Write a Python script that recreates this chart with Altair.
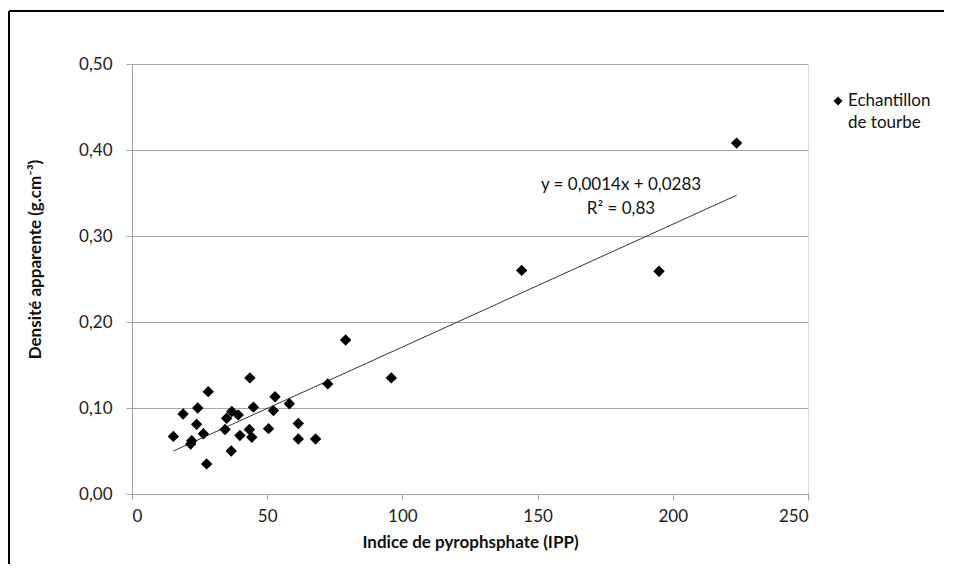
import altair as alt
import pandas as pd

# Data
ipp = [79.0, 95.9, 72.4, 43.6, 28.2, 52.9, 58.2, 24.3, 18.9, 36.9, 35.0, 39.3,
       44.9, 52.3, 23.9, 61.5, 34.4, 43.4, 50.5, 26.4, 15.3, 39.9, 44.3, 22.1,
       21.7, 61.5, 67.9, 36.7, 27.6, 144.1, 194.9, 223.6]
densite = [0.179, 0.135, 0.128, 0.135, 0.119, 0.113, 0.105, 0.100, 0.093, 0.096,
           0.088, 0.092, 0.101, 0.097, 0.081, 0.082, 0.075, 0.075, 0.076, 0.070,
           0.067, 0.068, 0.066, 0.062, 0.058, 0.064, 0.064, 0.050, 0.035, 0.260,
           0.259, 0.408]
x_ticks = [0, 50, 100, 150, 200, 250]
y_ticks = [0.0, 0.1, 0.2, 0.3, 0.4, 0.5]
equation_lines = ["y = 0,0014x + 0,0283", "R² = 0,83"]
legend_lines = ["Echantillon", "de tourbe"]

df = pd.DataFrame({"ipp": ipp, "densite": densite})

FONT = "Lato"
GRID = "#a6a6a6"

x_enc = alt.X("ipp:Q", scale=alt.Scale(domain=[0, 250], nice=False),
              axis=alt.Axis(values=x_ticks, title="Indice de pyrophsphate  (IPP)",
                            grid=False, domainColor=GRID, tickColor=GRID, tickSize=6,
                            labelFont=FONT, labelFontSize=17, labelColor="#222222",
                            labelPadding=8, titleFont=FONT, titleFontSize=17,
                            titleFontWeight="bold", titleColor="#111111", titlePadding=10))
y_enc = alt.Y("densite:Q", scale=alt.Scale(domain=[0, 0.5], nice=False),
              axis=alt.Axis(values=y_ticks, title="Densité apparente (g.cm⁻³)",
                            labelExpr="replace(format(datum.value, '.2f'), '.', ',')",
                            grid=True, gridColor=GRID, domainColor=GRID, tickColor=GRID,
                            tickSize=6, labelFont=FONT, labelFontSize=17,
                            labelColor="#222222", labelPadding=14,
                            titleFont=FONT, titleFontSize=17, titleFontWeight="bold",
                            titleColor="#111111", titleX=-88, titleY=195))

base = alt.Chart(df)

points = base.mark_point(shape="diamond", filled=True, color="black", size=130,
                         opacity=1).encode(x=x_enc, y=y_enc)

trend = base.transform_regression("ipp", "densite").mark_line(
    color="#333333", strokeWidth=1).encode(x="ipp:Q", y="densite:Q")

one = pd.DataFrame({"k": [0]})


def label(text, x, y, align):
    return alt.Chart(one).mark_text(font=FONT, fontSize=17, color="#111111",
                                    align=align, baseline="middle").encode(
        x=alt.value(x), y=alt.value(y), text=alt.value(text))


eq1 = label(equation_lines[0], 489, 121, "center")
eq2 = label(equation_lines[1], 489, 145, "center")

leg_sym = alt.Chart(one).mark_point(
    shape="diamond", filled=True, color="black", size=80, opacity=1).encode(
    x=alt.value(706), y=alt.value(37))
leg1 = label(legend_lines[0], 716, 37, "left")
leg2 = label(legend_lines[1], 716, 59, "left")

frame_top = alt.Chart(one).mark_rule(
    color="black", strokeWidth=2).encode(x=alt.value(-123), x2=alt.value(900),
                                         y=alt.value(-53))
frame_left = alt.Chart(one).mark_rule(
    color="black", strokeWidth=2).encode(x=alt.value(-123), y=alt.value(-53),
                                         y2=alt.value(560))

chart = alt.layer(frame_top, frame_left, trend, points, eq1, eq2,
                  leg_sym, leg1, leg2).properties(
    width=676, height=430,
    autosize=alt.AutoSizeParams(type="none"),
    padding={"left": 124, "top": 56, "right": 136, "bottom": 70},
).configure_view(stroke=GRID, strokeWidth=1).configure(background="white")

chart.save("out.html", embed_options={"renderer": "svg", "actions": False})
